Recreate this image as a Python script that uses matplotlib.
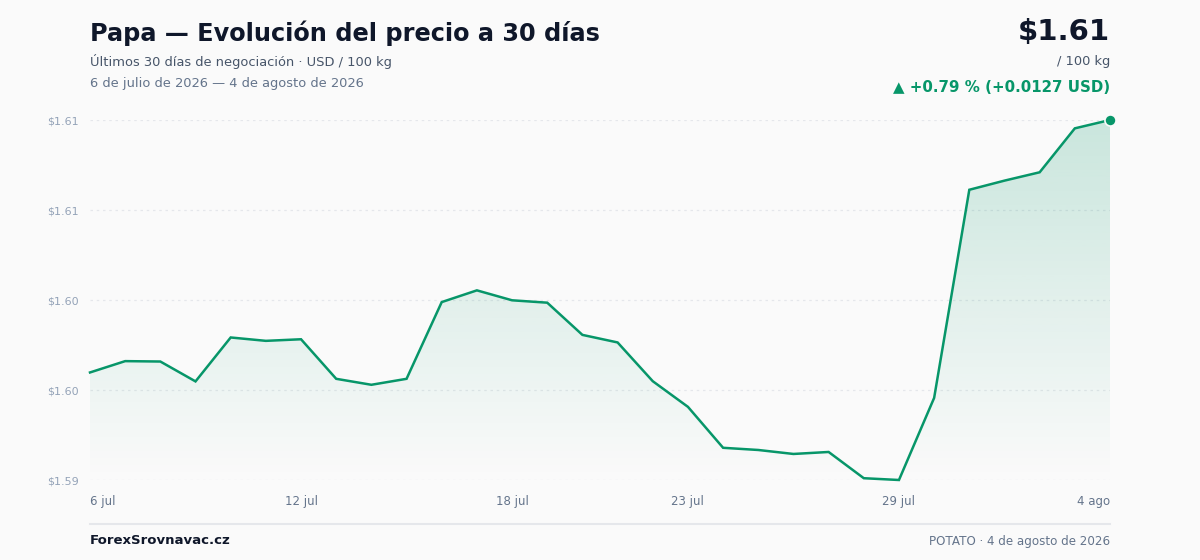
import matplotlib
matplotlib.use("Agg")
import matplotlib.pyplot as plt
import numpy as np
from matplotlib.ticker import FixedLocator, FuncFormatter

# --- data -------------------------------------------------------------
days = np.arange(30)
prices = [
    1.59850, 1.59907, 1.59905, 1.59805, 1.60026, 1.60009, 1.60017, 1.59818,
    1.59788, 1.59818, 1.60204, 1.60263, 1.60213, 1.60201, 1.60039, 1.60001,
    1.59806, 1.59677, 1.59471, 1.59460, 1.59440, 1.59450, 1.59318, 1.59309,
    1.59722, 1.60769, 1.60815, 1.60857, 1.61078, 1.61120,
]
tick_idx = [0, 6, 12, 17, 23, 29]
tick_labels = ["6 jul", "12 jul", "18 jul", "23 jul", "29 jul", "4 ago"]

title = "Papa — Evolución del precio a 30 días"
subtitle = "Últimos 30 días de negociación · USD / 100 kg"
date_range = "6 de julio de 2026 — 4 de agosto de 2026"
last_price = "$1.61"
unit = "/ 100 kg"
change = "▲ +0.79 % (+0.0127 USD)"
brand = "ForexSrovnavac.cz"
footer_right = "POTATO · 4 de agosto de 2026"

# --- colours ----------------------------------------------------------
BG = "#fafafa"
GREEN = "#079669"
DARK = "#0f172a"
MUTED = "#475569"
LIGHT = "#64748b"
TICK = "#94a3b8"
GRID = "#e5e7eb"

plt.rcParams["font.family"] = ["DejaVu Sans"]

fig = plt.figure(figsize=(12, 5.6), dpi=100, facecolor=BG)
ax = fig.add_axes([0.075, 1 - 480 / 560, 0.85, 360 / 560])
ax.set_facecolor(BG)

ymin, ymax = min(prices), max(prices)
ax.set_xlim(days[0], days[-1])
ax.set_ylim(ymin, ymax)

# gradient fill under the line
poly = ax.fill_between(days, prices, ymin, color="none", lw=0)
grad = np.linspace(0.0, 0.2, 256).reshape(-1, 1)
rgba = np.zeros((256, 1, 4))
rgba[..., :3] = matplotlib.colors.to_rgb(GREEN)
rgba[..., 3] = grad
img = ax.imshow(rgba, aspect="auto", origin="lower",
                extent=[days[0], days[-1], ymin, ymax], zorder=1)
img.set_clip_path(poly.get_paths()[0], transform=ax.transData)

ax.plot(days, prices, color=GREEN, lw=1.8, zorder=3, clip_on=False,
        solid_joinstyle="miter")
ax.plot(days[-1], prices[-1], "o", color=GREEN, ms=8, mec=BG, mew=1.2,
        zorder=4, clip_on=False)

# y grid / ticks
yt = np.linspace(ymin, ymax, 5)
ax.yaxis.set_major_locator(FixedLocator(yt))
ax.yaxis.set_major_formatter(FuncFormatter(lambda v, p: f"${v:.2f}"))
for v in yt:
    ax.axhline(v, color=GRID, lw=0.9, ls=(0, (2, 3)), zorder=0)
ax.tick_params(axis="y", length=0, pad=8, labelsize=8, labelcolor=TICK)

ax.set_xticks(tick_idx)
ax.set_xticklabels(tick_labels)
ax.tick_params(axis="x", length=0, pad=11, labelsize=8.5, labelcolor=LIGHT)
xl = ax.get_xticklabels()
xl[0].set_ha("left")
xl[-1].set_ha("right")

for s in ax.spines.values():
    s.set_visible(False)

# header text
fig.text(90 / 1200, 1 - 33 / 560, title, fontsize=17.3, fontweight="bold",
         color=DARK, va="center", ha="left")
fig.text(90 / 1200, 1 - 61 / 560, subtitle, fontsize=9.4, color=MUTED,
         va="center", ha="left")
fig.text(90 / 1200, 1 - 83 / 560, date_range, fontsize=9.4, color=LIGHT,
         va="center", ha="left")

fig.text(1110 / 1200, 1 - 32 / 560, last_price, fontsize=21, fontweight="bold",
         color=DARK, va="center", ha="right")
fig.text(1110 / 1200, 1 - 61 / 560, unit, fontsize=9.4, color=MUTED,
         va="center", ha="right")
fig.text(1110 / 1200, 1 - 87 / 560, change, fontsize=10.8, fontweight="bold",
         color=GREEN, va="center", ha="right")

# footer
fig.add_artist(plt.Line2D([90 / 1200, 1110 / 1200], [1 - 524 / 560] * 2,
                          color=GRID, lw=1.5, transform=fig.transFigure))
fig.text(90 / 1200, 1 - 541 / 560, brand, fontsize=9.5, fontweight="bold",
         color=DARK, va="center", ha="left")
fig.text(1110 / 1200, 1 - 541 / 560, footer_right, fontsize=8.6, color=LIGHT,
         va="center", ha="right")

fig.savefig("out.png", dpi=100, facecolor=BG)
